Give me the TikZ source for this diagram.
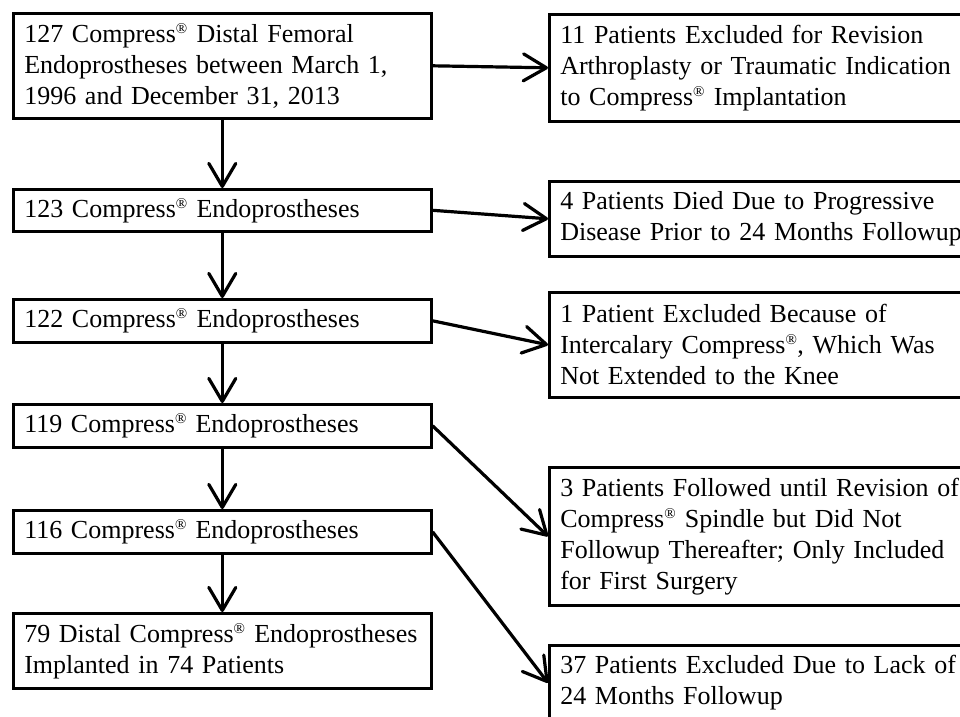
\documentclass[tikz,border=0pt]{standalone}
\usepackage{fontspec}
\setmainfont{Liberation Serif}
\usetikzlibrary{arrows.meta}

\newcommand{\cmp}{Compress\textsuperscript{\fontsize{15}{15}\selectfont\textregistered}}

\begin{document}
\begin{tikzpicture}[x=1pt,y=1pt,yscale=-1,
    box/.style={draw, line width=2.6pt, anchor=north west, align=left,
        inner xsep=11pt, inner ysep=0pt, font=\fontsize{26}{31}\selectfont},
    leftbox/.style={box, text width=396pt},
    rightbox/.style={box, text width=420pt},
    arr/.style={line width=3.2pt, -{Straight Barb[length=23pt,width=27pt,round]}}]
    \useasboundingbox (0,0) rectangle (960,716);
    \clip (0,0) rectangle (960,716);

    %Shapes: left column
    \node [leftbox, minimum height=105pt] (b127) at (12,12) {127 \cmp{} Distal Femoral\\Endoprostheses between March 1,\\1996 and December 31, 2013};
    \node [leftbox, minimum height=42pt] (b123) at (12,188) {123 \cmp{} Endoprostheses};
    \node [leftbox, minimum height=43pt] (b122) at (12,298) {122 \cmp{} Endoprostheses};
    \node [leftbox, minimum height=43pt] (b119) at (12,403) {119 \cmp{} Endoprostheses};
    \node [leftbox, minimum height=43pt] (b116) at (12,509) {116 \cmp{} Endoprostheses};
    \node [leftbox, minimum height=75pt] (b79) at (12,612) {79 Distal \cmp{} Endoprostheses\\Implanted in 74 Patients};

    %Shapes: right column
    \node [rightbox, minimum height=107pt] (r11) at (548,13) {11 Patients Excluded for Revision\\Arthroplasty or Traumatic Indication\\to \cmp{} Implantation};
    \node [rightbox, minimum height=75pt] (r4) at (548,180) {4 Patients Died Due to Progressive\\Disease Prior to 24 Months Followup};
    \node [rightbox, minimum height=105pt] (r1) at (548,291) {1 Patient Excluded Because of\\Intercalary \cmp, Which Was\\Not Extended to the Knee};
    \node [rightbox, minimum height=138pt] (r3) at (548,466) {3 Patients Followed until Revision of\\\cmp{} Spindle but Did Not\\Followup Thereafter; Only Included\\for First Surgery};
    \node [rightbox, minimum height=75pt] (r37) at (548,644) {37 Patients Excluded Due to Lack of\\24 Months Followup};

    %Arrows down
    \draw [arr] (b127) -- (b123);
    \draw [arr] (b123) -- (b122);
    \draw [arr] (b122) -- (b119);
    \draw [arr] (b119) -- (b116);
    \draw [arr] (b116) -- (b79);

    %Arrows right
    \draw [arr] (b127.east) -- (r11.west);
    \draw [arr] (b123.east) -- (r4.west);
    \draw [arr] (b122.east) -- (r1.west);
    \draw [arr] (b119.east) -- (r3.west);
    \draw [arr] (b116.east) -- (r37.west);

\end{tikzpicture}
\end{document}
